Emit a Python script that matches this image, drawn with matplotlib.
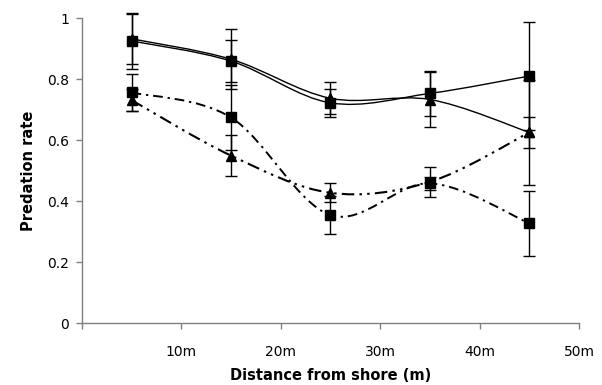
import numpy as np
import matplotlib
matplotlib.use("Agg")
import matplotlib.pyplot as plt
from matplotlib.path import Path
from matplotlib.patches import PathPatch

# distance from shore (m)
dist = [5, 15, 25, 35, 45]

# four series: two solid, two dash-dot
solid_sq = [0.925, 0.859, 0.722, 0.753, 0.810]
solid_sq_err = [0.093, 0.069, 0.045, 0.074, 0.178]
solid_tri = [0.932, 0.865, 0.737, 0.733, 0.625]
solid_tri_err = [0.083, 0.098, 0.052, 0.090, 0.050]
dash_sq = [0.756, 0.674, 0.354, 0.458, 0.327]
dash_sq_err = [0.060, 0.106, 0.062, 0.022, 0.107]
dash_tri = [0.731, 0.549, 0.427, 0.463, 0.625]
dash_tri_err = [0.035, 0.067, 0.031, 0.050, 0.173]

xtick_labels = ["", "10m", "20m", "30m", "40m", "50m"]
ytick_labels = ["0", "0.2", "0.4", "0.6", "0.8", "1"]


def smooth_path(x, y):
    # excel-style smoothed line as cubic bezier segments
    x = np.asarray(x, float)
    y = np.asarray(y, float)
    n = len(x)
    verts = [(x[0], y[0])]
    codes = [Path.MOVETO]
    for i in range(n - 1):
        i0 = max(i - 1, 0)
        i3 = min(i + 2, n - 1)
        c1 = (x[i] + (x[i + 1] - x[i0]) / 6, y[i] + (y[i + 1] - y[i0]) / 6)
        c2 = (x[i + 1] - (x[i3] - x[i]) / 6, y[i + 1] - (y[i3] - y[i]) / 6)
        verts += [c1, c2, (x[i + 1], y[i + 1])]
        codes += [Path.CURVE4] * 3
    return Path(verts, codes)


fig = plt.figure(figsize=(6.02, 3.85), dpi=100)
ax = fig.add_axes([0.136, 0.161, 0.826, 0.792])

series = [
    (solid_sq, solid_sq_err, "s", "-", 1.0),
    (solid_tri, solid_tri_err, "^", "-", 1.0),
    (dash_sq, dash_sq_err, "s", (0, (5, 2.5, 1.2, 2.5)), 1.4),
    (dash_tri, dash_tri_err, "^", (0, (6, 2.5, 1.2, 2.5, 1.2, 2.5)), 1.5),
]

for vals, err, mk, ls, lw in series:
    ax.add_patch(PathPatch(smooth_path(dist, vals), fill=False, edgecolor="black",
                           linestyle=ls, linewidth=lw, zorder=2))
    eb = ax.errorbar(dist, vals, yerr=err, fmt="none", ecolor="black", elinewidth=1,
                     capsize=4, capthick=1, zorder=3)
    for art in eb.get_children():
        art.set_clip_on(False)
    ax.plot(dist, vals, linestyle="none", marker=mk, color="black", markersize=7,
            zorder=4)

ax.set_xlim(0, 50)
ax.set_ylim(0, 1)
ax.set_xticks([0, 10, 20, 30, 40, 50])
ax.set_xticklabels(xtick_labels)
ax.set_yticks([0, 0.2, 0.4, 0.6, 0.8, 1])
ax.set_yticklabels(ytick_labels)

for s in ["top", "right"]:
    ax.spines[s].set_visible(False)
for s in ["left", "bottom"]:
    ax.spines[s].set_color("#808080")
    ax.spines[s].set_linewidth(1)
ax.tick_params(axis="both", colors="#808080", labelcolor="black", labelsize=10,
               length=4, width=1)
ax.tick_params(axis="x", pad=12)
ax.tick_params(axis="y", pad=5)

ax.set_xlabel("Distance from shore (m)", fontsize=10.5, fontweight="bold", labelpad=6)
ax.set_ylabel("Predation rate", fontsize=10.5, fontweight="bold", labelpad=8)

fig.savefig("out.png", dpi=100)
